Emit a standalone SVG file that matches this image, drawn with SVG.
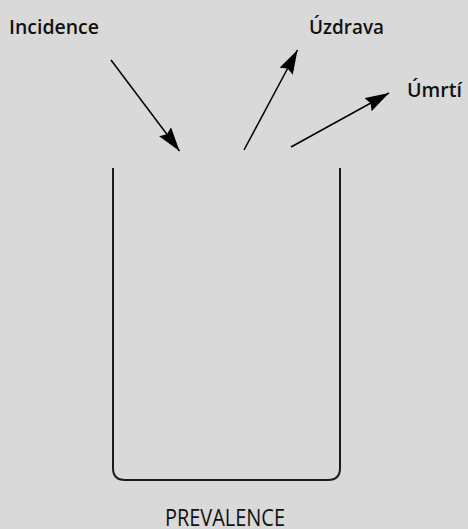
<svg xmlns="http://www.w3.org/2000/svg" width="468" height="529" viewBox="0 0 468 529">
<style>
.lbl{font-family:"Open Sans","Liberation Sans",sans-serif;font-weight:600;font-size:19px;fill:#111}
.cap{font-family:"Open Sans","Liberation Sans",sans-serif;font-weight:400;font-size:24px;fill:#111}
.arr{stroke:#000;stroke-width:1.5;fill:none;marker-end:url(#ah)}
</style>
<defs>
<marker id="ah" markerUnits="userSpaceOnUse" markerWidth="26" markerHeight="16" refX="24" refY="7.5" orient="auto" viewBox="0 0 26 16">
<path d="M0,0 L24,7.5 L0,15 L3,7.5 Z" fill="#000"/>
</marker>
</defs>
<rect width="468" height="529" fill="#d9d9d9"/>
<g id="container">
<path d="M113,168 V468 Q113,480 125,480 H328 Q340,480 340,468 V168" fill="none" stroke="#1a1a1a" stroke-width="2"/>
<text class="cap" x="225" y="526" text-anchor="middle" textLength="120" lengthAdjust="spacingAndGlyphs">PREVALENCE</text>
</g>
<g id="incidence"><text class="lbl" x="9" y="34" textLength="90" lengthAdjust="spacingAndGlyphs">Incidence</text></g>
<g id="uzdrava"><text class="lbl" x="309" y="34" textLength="75" lengthAdjust="spacingAndGlyphs">Úzdrava</text></g>
<g id="umrti"><text class="lbl" x="407" y="97" textLength="55" lengthAdjust="spacingAndGlyphs">Úmrtí</text></g>
<g id="connectors">
<line class="arr" x1="111" y1="60" x2="179.5" y2="151"/>
<line class="arr" x1="244" y1="150" x2="297.5" y2="50"/>
<line class="arr" x1="291" y1="147" x2="389" y2="93"/>
</g>
</svg>
